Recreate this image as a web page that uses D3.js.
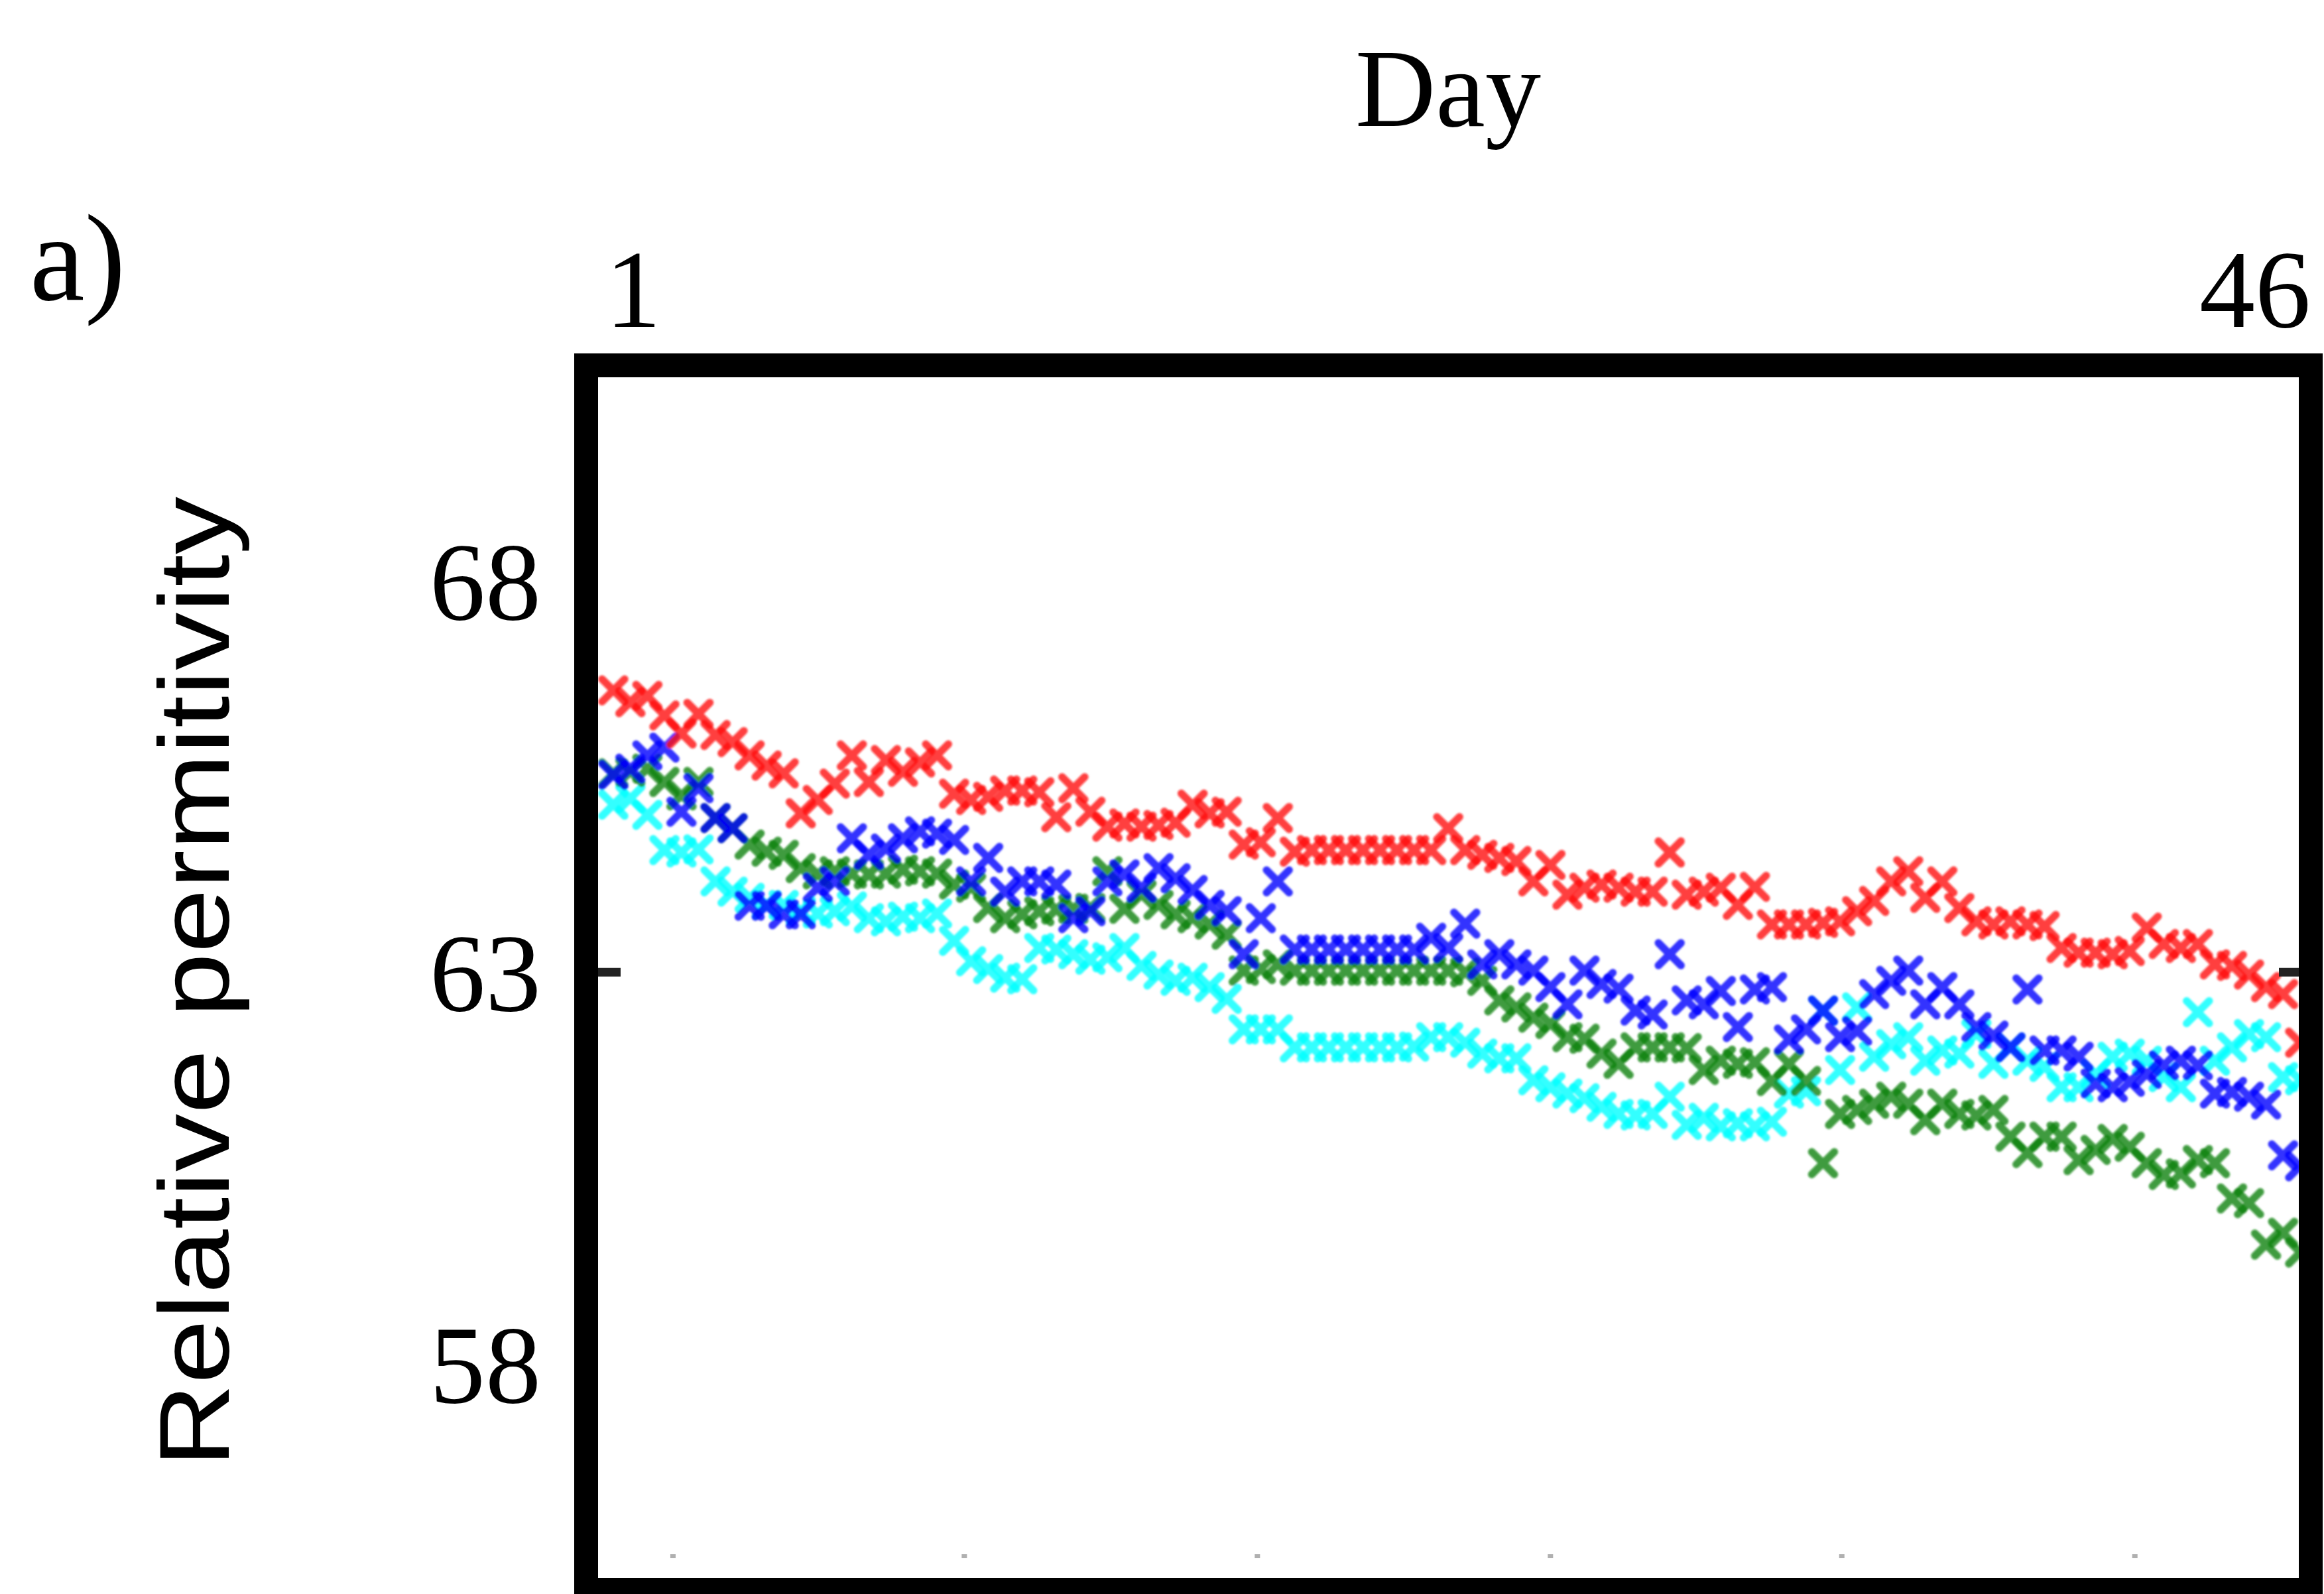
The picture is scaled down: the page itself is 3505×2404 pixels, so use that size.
<!DOCTYPE html>
<html>
<head>
<meta charset="utf-8">
<script src="https://cdn.jsdelivr.net/npm/d3@7"></script>
<style>
  html, body { margin: 0; padding: 0; background: #ffffff; }
  svg { display: block; }
</style>
</head>
<body>
<script>
// Relative permittivity readings, four probes, sampled twice a day over 46 days
const red = [66.60,66.45,66.53,66.28,66.05,66.30,66.03,65.94,65.77,65.64,
  65.54,65.03,65.20,65.41,65.77,65.43,65.71,65.56,65.68,65.77,
  65.28,65.20,65.24,65.32,65.32,65.30,64.98,65.35,65.05,64.86,
  64.90,64.86,64.88,64.91,65.14,65.03,65.05,64.63,64.66,64.97,
  64.54,64.56,64.56,64.56,64.56,64.56,64.56,64.56,64.56,64.84,
  64.56,64.50,64.46,64.42,64.16,64.37,63.99,64.08,64.12,64.08,
  64.03,64.03,64.53,63.99,64.03,64.08,63.86,64.09,63.61,63.61,
  63.61,63.63,63.65,63.78,63.91,64.16,64.29,63.95,64.16,63.82,
  63.65,63.61,63.65,63.61,63.59,63.31,63.25,63.25,63.23,63.27,
  63.57,63.36,63.31,63.36,63.10,63.08,62.97,62.81,62.72,62.10];

const blue = [65.52,65.60,65.77,65.87,65.05,65.35,64.97,64.84,63.85,63.85,
  63.74,63.74,64.08,64.16,64.71,64.50,64.58,64.71,64.80,64.77,
  64.69,64.16,64.46,64.03,64.16,64.16,64.12,63.69,63.78,64.16,
  64.25,64.08,64.33,64.20,64.05,63.86,63.78,63.23,63.69,64.16,
  63.29,63.29,63.29,63.29,63.29,63.29,63.29,63.29,63.44,63.31,
  63.62,63.10,63.23,63.10,63.02,62.81,62.59,63.02,62.85,62.79,
  62.51,62.46,63.23,62.64,62.59,62.76,62.30,62.78,62.81,62.14,
  62.27,62.51,62.17,62.25,62.72,62.89,63.02,62.59,62.81,62.59,
  62.30,62.19,62.04,62.78,62.00,62.00,61.92,61.58,61.53,61.60,
  61.70,61.81,61.87,61.81,61.45,61.47,61.41,61.31,60.66,60.52];

const green = [65.54,65.56,65.60,65.43,65.26,65.43,64.97,64.84,64.63,64.54,
  64.50,64.33,64.25,64.29,64.26,64.25,64.26,64.31,64.29,64.26,
  64.12,64.08,63.82,63.69,63.74,63.78,63.80,63.81,63.82,64.29,
  63.81,63.99,63.86,63.74,63.69,63.61,63.48,63.02,63.04,63.10,
  63.02,63.02,63.02,63.02,63.02,63.02,63.02,63.02,63.02,63.02,
  63.00,62.89,62.64,62.55,62.42,62.34,62.17,62.15,61.96,61.83,
  62.04,62.04,62.04,62.03,61.75,61.87,61.83,61.85,61.61,61.83,
  61.61,60.56,61.19,61.24,61.32,61.41,61.32,61.11,61.32,61.19,
  61.17,61.24,60.90,60.69,60.90,60.90,60.60,60.73,60.87,60.77,
  60.56,60.41,60.43,60.60,60.56,60.11,60.05,59.52,59.67,59.42];

const cyan = [65.14,65.22,65.01,64.56,64.53,64.57,64.16,64.03,63.95,63.86,
  63.86,63.78,63.75,63.78,63.84,63.69,63.65,63.71,63.69,63.75,
  63.40,63.14,63.04,62.93,62.91,63.31,63.29,63.23,63.16,63.19,
  63.31,63.08,62.97,62.89,62.93,62.81,62.66,62.27,62.27,62.27,
  62.04,62.04,62.04,62.04,62.04,62.04,62.04,62.05,62.17,62.17,
  62.10,61.96,61.90,61.90,61.62,61.53,61.45,61.39,61.28,61.19,
  61.17,61.19,61.41,61.05,61.14,61.03,61.07,61.03,61.09,61.45,
  61.48,62.51,61.75,62.55,61.92,62.08,62.17,61.87,62.00,61.96,
  62.21,61.83,62.04,61.87,61.79,61.53,61.53,61.70,61.92,61.96,
  61.87,61.66,61.53,62.49,61.87,62.04,62.21,62.17,61.66,61.62];

const seriesNames = ["cyan", "green", "blue", "red"];
const seriesColors = ["#00ffff", "#0a820a", "#0000ff", "#ff1010"];
const seriesValues = [cyan, green, blue, red];

const yTickValues = [68, 63, 58];
const dayLabels = ["1", "46"];
const minorTickIndex = [3.5, 20.6, 37.8, 55.0, 72.1, 89.3];

const W = 3505, H = 2404;
const frame = { left: 884, right: 3485, top: 551, bottom: 2398, stroke: 36 };
const inner = { left: frame.left + frame.stroke / 2, right: frame.right - frame.stroke / 2,
                top: frame.top + frame.stroke / 2, bottom: frame.bottom - frame.stroke / 2 };

const svg = d3.select("body").append("svg")
  .attr("width", W).attr("height", H)
  .attr("viewBox", `0 0 ${W} ${H}`);

svg.append("rect").attr("width", W).attr("height", H).attr("fill", "#ffffff");

const n = red.length;
const x = d3.scaleLinear().domain([0, n - 1]).range([925, 3469]);
const y = d3.scaleLinear().domain([55.26, 70.60]).range([inner.bottom, inner.top]);

const defs = svg.append("defs");
defs.append("filter").attr("id", "soft")
  .append("feGaussianBlur").attr("stdDeviation", 1.8);
defs.append("clipPath").attr("id", "plotClip")
  .append("rect")
  .attr("x", inner.left).attr("y", inner.top)
  .attr("width", inner.right - inner.left).attr("height", inner.bottom - inner.top);

// faint minor ticks along the bottom edge
svg.append("g").selectAll("rect").data(minorTickIndex).join("rect")
  .attr("x", d => x(d) - 4).attr("y", 2344)
  .attr("width", 8).attr("height", 6)
  .attr("fill", "#b0b0b0");

// cross markers for each probe
const r = 17;
const crossPath = `M${-r},${-r}L${r},${r}M${-r},${r}L${r},${-r}`;
const marks = svg.append("g").attr("clip-path", "url(#plotClip)")
  .append("g").attr("filter", "url(#soft)");

seriesValues.forEach((vals, k) => {
  marks.append("g")
    .attr("class", "series-" + seriesNames[k])
    .selectAll("path").data(vals).join("path")
    .attr("d", crossPath)
    .attr("transform", (v, i) => `translate(${x(i)},${y(v)})`)
    .attr("fill", "none")
    .attr("stroke", seriesColors[k])
    .attr("stroke-width", 11.5)
    .attr("stroke-linecap", "round")
    .attr("stroke-opacity", 0.8);
});

// y ticks on both sides (only the middle one shows inside the frame)
svg.append("g").selectAll("line").data([63]).join("line")
  .attr("x1", inner.left).attr("x2", inner.left + 34)
  .attr("y1", d => y(d)).attr("y2", d => y(d))
  .attr("stroke", "#222").attr("stroke-width", 13);
svg.append("g").selectAll("line").data([63]).join("line")
  .attr("x1", inner.right - 30).attr("x2", inner.right)
  .attr("y1", d => y(d)).attr("y2", d => y(d))
  .attr("stroke", "#222").attr("stroke-width", 13);

// frame
svg.append("rect")
  .attr("x", frame.left).attr("y", frame.top)
  .attr("width", frame.right - frame.left).attr("height", frame.bottom - frame.top)
  .attr("fill", "none").attr("stroke", "#000").attr("stroke-width", frame.stroke);

const serif = "'Liberation Serif', 'Times New Roman', serif";
const sans = "'Liberation Sans', Arial, sans-serif";

// y tick labels
svg.append("g").selectAll("text").data(yTickValues).join("text")
  .attr("x", 816).attr("y", d => y(d) + 58)
  .attr("text-anchor", "end")
  .attr("font-family", serif).attr("font-size", 168)
  .text(d => d);

// day labels at the ends of the top axis
svg.append("text").attr("x", 955).attr("y", 493)
  .attr("text-anchor", "middle").attr("font-family", serif).attr("font-size", 168)
  .text(dayLabels[0]);
svg.append("text").attr("x", 3401).attr("y", 493)
  .attr("text-anchor", "middle").attr("font-family", serif).attr("font-size", 168)
  .text(dayLabels[1]);

// axis titles
svg.append("text").attr("x", 2184).attr("y", 190)
  .attr("text-anchor", "middle").attr("font-family", serif).attr("font-size", 168)
  .text("Day");
svg.append("text")
  .attr("transform", "translate(345,1481) rotate(-90)")
  .attr("text-anchor", "middle").attr("font-family", sans).attr("font-size", 150)
  .attr("textLength", 1464).attr("lengthAdjust", "spacingAndGlyphs")
  .text("Relative permitivity");

// panel tag
svg.append("text").attr("x", 45).attr("y", 452)
  .attr("font-family", serif).attr("font-size", 186)
  .text("a)");
</script>
</body>
</html>
